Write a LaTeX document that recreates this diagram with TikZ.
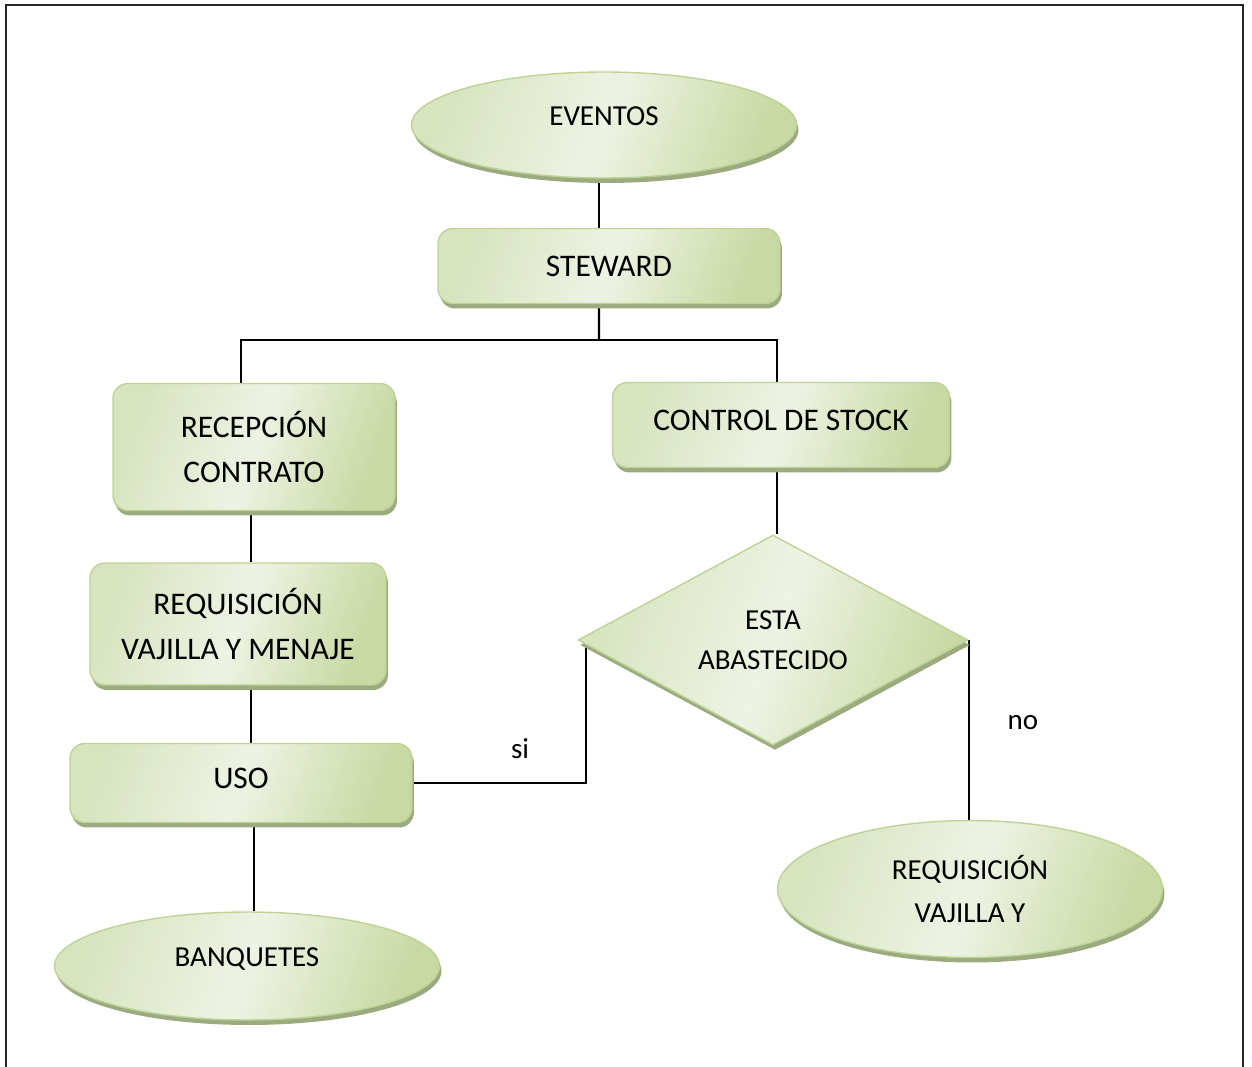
\documentclass[tikz,border=0pt]{standalone}
\usepackage{fontspec}
\setmainfont{Carlito}
\usepackage{xcolor}
\usetikzlibrary{% 
   calc,% 
   shapes.geometric,% 
   shadows,%
   backgrounds,% 
   positioning}
\definecolor{flowdraw}{RGB}{190,210,150}
\definecolor{flowleft}{RGB}{216,228,192}
\definecolor{flowdark}{RGB}{200,217,163}
\definecolor{flowlight}{RGB}{237,243,227}
\definecolor{flowshadow}{RGB}{156,170,128}
\tikzset{
  flow shape/.style={
    draw=flowdraw,
    line width=0.8pt,
    left color=flowleft,
    right color=flowdark,
    middle color=flowlight,
    shading angle=70,
    drop shadow={shadow xshift=0.04cm, shadow yshift=-0.1cm, fill=flowshadow, opacity=1},
    align=center,
    inner sep=0pt,
  },
  flow box/.style={
    flow shape,
    rectangle,
    rounded corners=0.3cm,
    font=\fontsize{17.9}{25.6}\selectfont,
  },
  flow oval/.style={
    flow shape,
    ellipse,
    font=\fontsize{16.5}{24}\selectfont,
  },
  flow decision/.style={
    flow shape,
    diamond,
    font=\fontsize{16.5}{22.8}\selectfont,
  },
  flow line/.style={
    line width=1.3pt,
    black,
  },
}

\begin{document}
\begin{tikzpicture}[
            x = 0.02cm, y = -0.02cm, % one unit = one pixel
            line width = 1.3pt % line style
        ]

        \tikzstyle{every branch}=[
            font = \fontsize{16.5}{20}\selectfont
        ]

        \useasboundingbox (0,0) rectangle (1252,1067);
        \draw[line width=1.5pt, black!85] (6,1067) -- (6,5) -- (1243,5) -- (1243,1067);

        \node[flow oval, minimum width=7.7cm, minimum height=2.12cm, text depth=0.36cm] (ev) at (604,125) {EVENTOS};
        \node[flow box, minimum width=6.84cm, minimum height=1.5cm] (st) at (609,266) {STEWARD};

        \node[flow box, minimum width=5.64cm, minimum height=2.54cm] (rc) at (254,447) {RECEPCIÓN\\CONTRATO};
        \node[flow box, minimum width=5.92cm, minimum height=2.44cm] (rq) at (238,624) {REQUISICIÓN\\VAJILLA Y MENAJE};
        \node[flow box, minimum width=6.84cm, minimum height=1.58cm, text depth=0.2cm] (uso) at (241,783) {USO};
        \node[flow oval, minimum width=7.7cm, minimum height=2.16cm, text depth=0.36cm] (bq) at (247,966) {BANQUETES};

        \node[flow box, minimum width=6.74cm, minimum height=1.7cm, text depth=0.2cm] (cs) at (781,425) {CONTROL DE STOCK};
        \node[flow decision, minimum width=7.8cm, minimum height=4.2cm] (dm) at (773,640) {ESTA\\ABASTECIDO};
        \node[flow oval, minimum width=7.7cm, minimum height=2.74cm] (re) at (970,889) {REQUISICIÓN\\VAJILLA Y};

        \node[every branch] (si) at (520,749) {si};
        \node[every branch] (no) at (1023,723) {no};

        \coordinate (split) at (599,340);

        \begin{pgfonlayer}{background}
        \begin{scope}[flow line]
        \draw ([xshift=-0.2cm]st.north) -- ([xshift=-0.2cm]st.north |- ev.south);
        \draw ([xshift=-0.2cm]st.south) -- (split);
        \draw ([xshift=-0.26cm]rc.north) |- (split) -| ([xshift=-0.08cm]cs.north);

        \draw ([xshift=-0.06cm]rc.south) -- ([xshift=-0.06cm]rc.south |- rq.north);
        \draw ([xshift=0.26cm]rq.south) -- ([xshift=0.26cm]rq.south |- uso.north);
        \draw ([xshift=0.26cm]uso.south) -- ([xshift=0.26cm]uso.south |- bq.north);

        \draw ([xshift=-0.08cm]cs.south) -- ([xshift=-0.08cm]cs.south |- dm.north);
        \draw (uso.east) -| ([xshift=0.18cm]dm.west);
        \draw (dm.east) -- (dm.east |- re.north);
        \end{scope}
        \end{pgfonlayer}

    \end{tikzpicture}
\end{document}
